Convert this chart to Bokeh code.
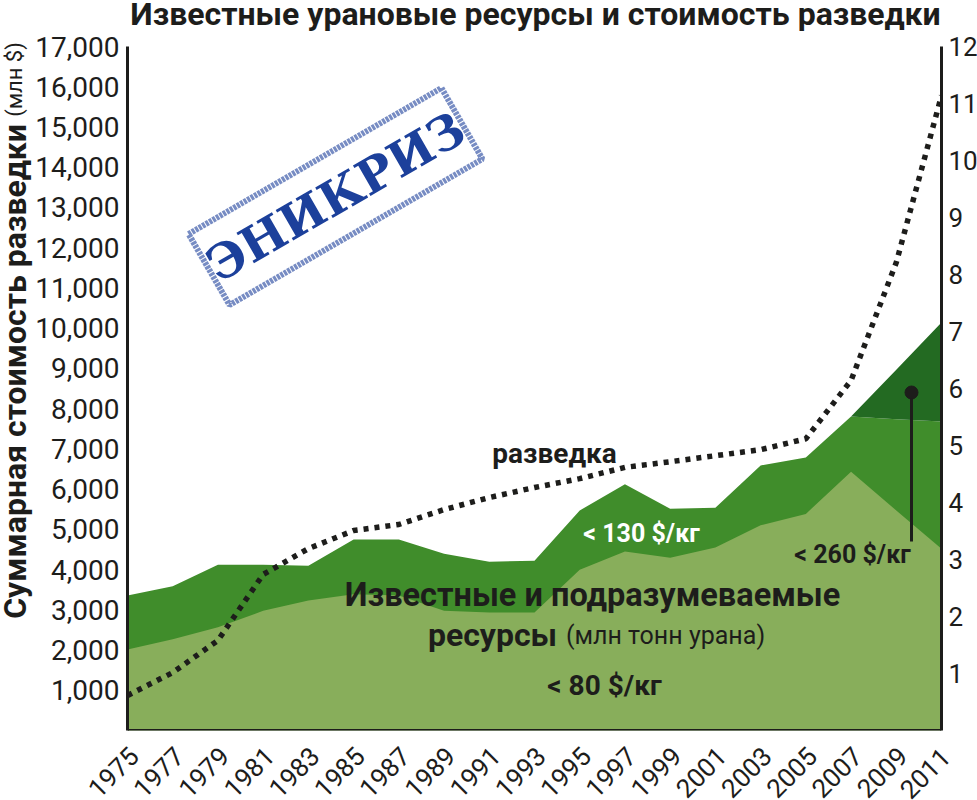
from math import radians, pi
from bokeh.plotting import figure
from bokeh.embed import file_html
from bokeh.resources import INLINE
from bokeh.models import Range1d, LinearAxis, FixedTicker, NumeralTickFormatter, Label, Span

years = list(range(1975, 2012, 2))
res_80 = [1.42, 1.60, 1.81, 2.10, 2.28, 2.39, 2.37, 2.10, 2.07, 2.07, 2.82, 3.14, 3.03, 3.21, 3.60, 3.80, 4.54, 3.86, 3.19]
res_130 = [2.37, 2.53, 2.91, 2.91, 2.89, 3.35, 3.35, 3.10, 2.96, 2.98, 3.86, 4.32, 3.89, 3.91, 4.65, 4.79, 5.51, 5.46, 5.42]
years_260 = [2007, 2009, 2011]
res_260 = [5.51, 6.33, 7.16]
res_260_base = [5.51, 5.46, 5.42]
exploration = [870, 1440, 2240, 3880, 4520, 4970, 5120, 5490, 5790, 6040, 6260, 6540, 6680, 6830, 6980, 7250, 8700, 11630, 15780]
left_ticks = list(range(1000, 17001, 1000))
right_ticks = list(range(1, 13))

INK = "#1d1d1b"
FONT = "Roboto"
L, R, T, B = 127, 941, 46, 730

def dx(px):
    return 1975 + (px - L) * 36 / (R - L)

def dy(py):
    return (B - py) * 17000 / (B - T)

p = figure(width=977, height=800, frame_width=R - L, frame_height=B - T,
           output_backend="svg", toolbar_location=None,
           x_range=Range1d(1975, 2011), y_range=Range1d(0, 17000),
           min_border_left=L, min_border_right=977 - R, min_border_top=T, min_border_bottom=800 - B,
           background_fill_color="white", border_fill_color=None, outline_line_color=None)
p.grid.visible = False
p.extra_y_ranges = {"mt": Range1d(0, 12)}
p.extra_x_ranges = {"labels": Range1d(1974.72, 2010.72)}

p.varea(x=years, y1=0, y2=res_130, y_range_name="mt", fill_color="#408D2B")
p.varea(x=years_260, y1=res_260_base, y2=res_260, y_range_name="mt", fill_color="#236A22")
p.varea(x=years, y1=0, y2=res_80, y_range_name="mt", fill_color="#88AE5B")
p.line(years, exploration, line_color=INK, line_width=5.5, line_dash="5 6")

# pointer
p.segment(x0=[dx(911)], y0=[dy(392)], x1=[dx(911)], y1=[dy(541)], line_color=INK, line_width=3)
p.scatter(x=[dx(911)], y=[dy(392)], size=13, marker="circle", fill_color=INK, line_color=INK)

# stamp
BLUE = "#1c409b"
p.rect(x=[dx(335)], y=[dy(196)], width=[292], height=[82], angle=[radians(30)],
       width_units="screen", height_units="screen", fill_color=None,
       line_color=BLUE, line_alpha=0.6, line_width=6, line_dash="3 1")

def label(text, px, py, size, style="bold", color=INK, align="center", angle=0, font=FONT, outer=False):
    lab = Label(x=dx(px), y=dy(py), text=text, text_font=font, text_font_size=f"{size}px",
                text_font_style=style, text_color=color, text_align=align, level="overlay",
                text_baseline="middle", angle=angle, angle_units="deg")
    if outer:
        # held in a side panel so that it may sit outside the frame
        p.add_layout(lab, "right")
    else:
        p.add_layout(lab)

label("ЭНИКРИЗ", 335, 196, 48, color=BLUE, angle=30, font="DejaVu Serif")
label("разведка", 554, 453, 28)
label("< 130 $/кг", 641, 533, 25, color="white")
label("< 260 $/кг", 852, 554, 25)
label("< 80 $/кг", 604, 685, 28)
label("Известные и подразумеваемые", 592, 594, 32.5)
label("ресурсы", 492, 634, 32)
label("(млн тонн урана)", 665, 635, 25, style="normal")

def style_axis(ax, ticks, size):
    ax.ticker = FixedTicker(ticks=ticks)
    ax.axis_line_color = INK
    ax.axis_line_width = 3
    ax.major_tick_line_color = None
    ax.minor_tick_line_color = None
    ax.major_label_text_font = FONT
    ax.major_label_text_font_size = size
    ax.major_label_text_color = INK

style_axis(p.yaxis[0], left_ticks, "28px")
p.yaxis[0].formatter = NumeralTickFormatter(format="0,0")
p.yaxis[0].major_label_standoff = 2

right = LinearAxis(y_range_name="mt")
style_axis(right, right_ticks, "26px")
right.major_label_standoff = 1
p.add_layout(right, "right")

p.xaxis[0].visible = False
bottom = LinearAxis(x_range_name="labels", bounds=(1975, 2011))
style_axis(bottom, years, "26px")
bottom.axis_line_color = None
bottom.formatter = NumeralTickFormatter(format="0")
bottom.major_label_orientation = pi / 4
bottom.major_label_standoff = 15
p.add_layout(bottom, "below")
p.add_layout(Span(location=0, dimension="width", line_color=INK, line_width=3))

label("Известные урановые ресурсы и стоимость разведки", 535, 13, 32, outer=True)
label("Суммарная стоимость разведки", 14, 371, 32, angle=90, outer=True)
label("(млн $)", 14, 79, 22, style="normal", angle=90, outer=True)
label("2011", 945, 752, 26, style="normal", align="right", angle=45, outer=True)

open("out.html", "w").write(file_html(p, INLINE))
